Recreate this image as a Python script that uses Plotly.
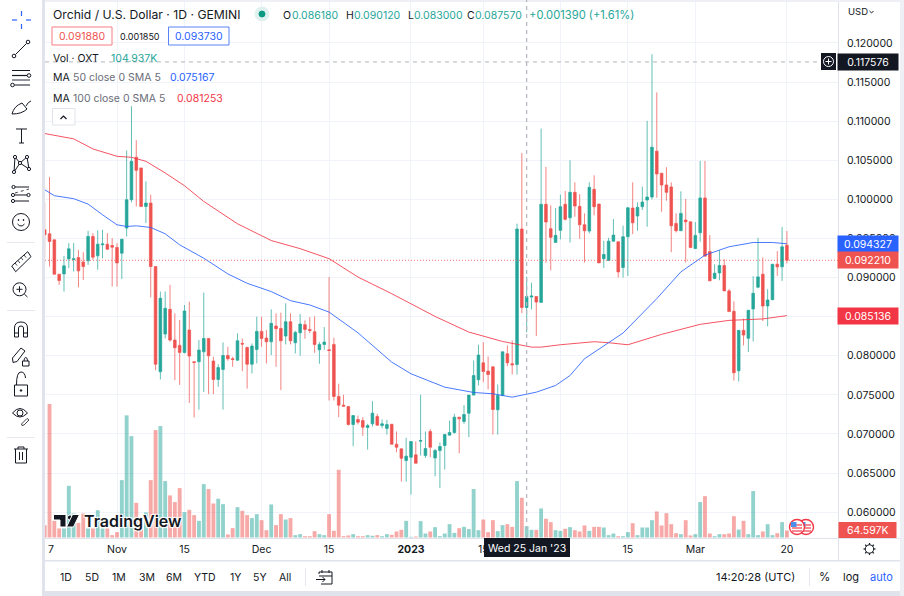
import re
import pandas as pd
import plotly.graph_objects as go

W, H = 904, 596
FONT = "Inter"
INK = "#131722"
GREEN = "#26a69a"
RED = "#ef5350"
BLUE = "#2962ff"
MA_RED = "#f23645"
FRAME = "#e0e3eb"
GRID = "#f0f3fa"

start_date = "2022-10-17"

open_ = [
 .09611,.0956,.09483,.09043,.09047,.09239,.0923,.09256,.09199,.09214,
 .09526,.09278,.0942,.09427,.0941,.09385,.09312,.09633,.09996,.10538,
 .10402,.0991,.09953,.09141,.07795,.08278,.08594,.08201,.08133,.08043,
 .08329,.07924,.07924,.08051,.08222,.07932,.07697,.07825,.08004,.07962,
 .07944,.08158,.08107,.07893,.08081,.08312,.08227,.08179,.0838,.0835,
 .08252,.08436,.08167,.08295,.08397,.08337,.08307,.08077,.08145,.08077,
 .08145,.0748,.07369,.07352,.07121,.07185,.07172,.07083,.0713,.07224,
 .07108,.0707,.07125,.06869,.0681,.0666,.06703,.06733,.06908,.06724,
 .07032,.06694,.06788,.06852,.06985,.07019,.07215,.0716,.07266,.07497,
 .07693,.0791,.07804,.07859,.07309,.07492,.08026,.07898,.07889,.09621,
 .08618,.08751,.08759,.08683,.09937,.09625,.0945,.09604,.09937,.09765,
 .1009,.09911,.09676,.09595,.10129,.09941,.0924,.09218,.09466,.09458,
 .09129,.09522,.09889,.09787,.09906,.09992,.1003,.10616,.10334,.10184,
 .10159,.09693,.09599,.09736,.09714,.09372,.09573,.10018,.09334,.08988,
 .0906,.09154,.0883,.08569,.07808,.08325,.08223,.08599,.08877,.09043,
 .08637,.08718,.09171,.09137,.09415]

high = [
 .09962,.10286,.09483,.09043,.09278,.0944,.0944,.09355,.09325,.09598,
 .09568,.09603,.09611,.09568,.09504,.0944,.09491,.10624,.11192,.10756,
 .10402,.10231,.1006,.09141,.08821,.08821,.08906,.08543,.08457,.0865,
 .08692,.07924,.08201,.08808,.08222,.07987,.07893,.08171,.08115,.07987,
 .08286,.08222,.08115,.08158,.085,.085,.08329,.08594,.08543,.08551,
 .08671,.08543,.0832,.08534,.08452,.08495,.08503,.08175,.08367,.09007,
 .0823,.07642,.07501,.07352,.07236,.07236,.07215,.0713,.0742,.07258,
 .07185,.07181,.07125,.07032,.0681,.06951,.06904,.06904,.07501,.07032,
 .07062,.0681,.06891,.07002,.07172,.07258,.07215,.07369,.07497,.0794,
 .08141,.08175,.07992,.07859,.07633,.08051,.08132,.08196,.09689,.10594,
 .09012,.08934,.08759,.10905,.10415,.09924,.0989,.1006,.10108,.105,
 .10218,.10065,.09821,.10218,.10308,.09941,.09471,.09509,.09748,.09458,
 .09663,.09894,.10218,.09962,.10163,.11005,.11855,.11368,.10334,.10411,
 .10218,.09821,.10103,.10005,.09714,.0971,.10492,.10492,.09543,.09171,
 .09351,.09235,.08855,.08697,.08325,.08475,.08582,.09018,.09509,.09257,
 .08851,.09171,.09338,.09646,.09595]

low = [
 .09248,.09141,.09043,.08906,.08821,.0912,.09077,.08876,.0897,.09162,
 .09227,.091,.09248,.09355,.08885,.08885,.08983,.09526,.09962,.0991,
 .0991,.09697,.08748,.07816,.07697,.08222,.0818,.07688,.07628,.0803,
 .07397,.0721,.07312,.07538,.07509,.07509,.07603,.07312,.07936,.07859,
 .07936,.07803,.07581,.07774,.07902,.08115,.07902,.08009,.07859,.0756,
 .08145,.08145,.0803,.08,.08218,.0829,.08038,.07898,.08077,.07428,
 .07428,.07215,.07352,.07108,.06844,.07121,.06976,.06801,.07096,.07108,
 .07074,.06993,.06869,.06767,.06391,.06391,.06225,.06626,.06724,.06694,
 .06703,.0646,.06311,.06545,.06985,.07002,.06754,.0713,.06959,.07497,
 .0762,.07663,.07569,.06993,.06993,.07484,.07868,.07761,.07761,.08546,
 .083,.08593,.08252,.08683,.0919,.09092,.0945,.09489,.09732,.09449,
 .09778,.09496,.09193,.09565,.09797,.09188,.09124,.09214,.09458,.09,
 .09,.09022,.09556,.09599,.09864,.0965,.1,.10022,.09842,.09983,
 .09325,.09577,.09599,.09193,.09376,.09364,.09458,.09274,.08958,.08979,
 .08966,.0883,.08565,.07684,.07671,.08133,.08048,.08184,.08864,.08445,
 .08377,.0871,.09022,.08958,.0918]

close = [
 .09547,.09462,.09043,.08962,.0915,.09368,.0924,.09086,.09141,.09526,
 .09261,.09427,.0943,.09363,.09389,.09188,.09491,.09996,.10487,.10372,
 .0991,.09953,.09141,.07893,.08735,.08607,.08201,.08103,.08043,.08573,
 .07996,.07915,.08073,.08222,.08,.07697,.0785,.08004,.07962,.07953,
 .08192,.0815,.07893,.08124,.08312,.08222,.08179,.08415,.08346,.08192,
 .08436,.08192,.08299,.08406,.08337,.08324,.08145,.08145,.08175,.08068,
 .0748,.07369,.07356,.07121,.07236,.07151,.07087,.07108,.07266,.07113,
 .0713,.07121,.06869,.06831,.0669,.06716,.06904,.06626,.06916,.06814,
 .06831,.06788,.0684,.06993,.07019,.07215,.07194,.07249,.07497,.07748,
 .08009,.07799,.07761,.07313,.07492,.08051,.0791,.07885,.09621,.08618,
 .08757,.08764,.08687,.09937,.09711,.09515,.0954,.09907,.09745,.1009,
 .09915,.09676,.09599,.10154,.09906,.09188,.09296,.09466,.09543,.09073,
 .09522,.09894,.09701,.09898,.09966,.1003,.10667,.10325,.10184,.1009,
 .09663,.09599,.09821,.09714,.09385,.09539,.10018,.09274,.08958,.09056,
 .09154,.0883,.08565,.07783,.08325,.08265,.08582,.08799,.09009,.08637,
 .08714,.09171,.09137,.09394,.09221]

volume_k = [
 115,1240,155,84,84,480,223,136,223,84,
 84,254,84,84,22,50,533,1135,942,322,
 130,233,533,998,1035,524,391,329,459,236,
 257,208,155,496,450,316,360,310,28,87,
 282,248,208,180,217,161,68,307,115,217,
 167,180,22,31,12,12,59,31,22,217,
 62,629,12,19,31,12,12,22,16,22,
 12,31,25,56,71,155,6,9,152,37,
 56,96,12,37,124,43,87,99,78,450,
 68,167,50,161,59,115,124,99,524,369,
 104.937,71,71,270,174,143,68,62,81,96,
 68,56,112,62,99,99,93,22,37,12,
 12,50,133,22,93,93,161,242,112,226,
 124,40,31,161,19,31,329,384,37,12,
 31,31,37,198,74,155,31,431,22,56,
 124,22,40,143,64.597]

ma100_day = [0,6,10,15,18,21,25,29,33,40,47,53,59,65,72,81,88,95,101,103,107,114,117,121,128,136,142,149,154]
ma100_val = [.10842,.10774,.10645,.10551,.10538,.10487,.10338,.10175,.09974,.09688,.09474,.0937,.09242,.09007,.08794,
             .08503,.08303,.08183,.08111,.08111,.08141,.0818,.08167,.08141,.08274,.08402,.08453,.08471,.085136]
ma50_day = [0,2,6,9,12,15,17,19,22,25,28,33,38,42,47,51,55,59,65,72,76,83,89,93,97,102,106,109,112,120,127,132,137,142,147,151,154]
ma50_val = [.10124,.10047,.10009,.0994,.09803,.09675,.09654,.09662,.09641,.0956,.09419,.09248,.09047,.08927,.08821,.08705,.0865,
            .08559,.08294,.07919,.0777,.07599,.07531,.07514,.07471,.07535,.0762,.07748,.07962,.08291,.08731,.09073,.09287,.09394,.09449,.09449,.094327]

price_ticks = [.06,.065,.07,.075,.08,.085,.09,.095,.10,.105,.11,.115,.12]
price_tick_text = ["0.060000","0.065000","0.070000","0.075000","0.080000","","0.090000","0.095000","0.100000","0.105000","0.110000","0.115000","0.120000"]
x_tick_dates = ["2022-11-01","2022-11-15","2022-12-01","2022-12-15","2023-01-01","2023-01-16","2023-02-01","2023-02-15","2023-03-01","2023-03-20"]
x_tick_text = ["Nov","15","Dec","15","<b>2023</b>","15","","15","Mar","20"]

ranges = ["1D","5D","1M","3M","6M","YTD","1Y","5Y","All"]
range_x = [66,92,119,147,174,205,235,260,285]

dates = pd.date_range(start_date, periods=len(open_), freq="D")
vol_colors = ["rgba(38,166,154,0.5)" if c >= o else "rgba(239,83,80,0.5)" for o, c in zip(open_, close)]


def px(x):
    return x / W


def py(y):
    return 1 - y / H


def path_of(cmds):
    out, is_x = [], True
    for tok in cmds.split():
        if re.fullmatch(r"[A-Za-z]", tok):
            out.append(tok)
            is_x = True
        else:
            v = float(tok)
            out.append(f"{px(v):.5f}" if is_x else f"{py(v):.5f}")
            is_x = not is_x
    return " ".join(out)


shapes, notes = [], []


def rect(x0, y0, x1, y1, fill, line=None, lw=1, layer="above"):
    shapes.append(dict(type="rect", xref="paper", yref="paper", x0=px(x0), x1=px(x1), y0=py(y1), y1=py(y0),
                       fillcolor=fill, line=dict(color=line or fill, width=lw if line else 0), layer=layer))


def circ(x, y, r, fill="rgba(0,0,0,0)", line=INK, lw=1):
    shapes.append(dict(type="circle", xref="paper", yref="paper", x0=px(x - r), x1=px(x + r), y0=py(y + r), y1=py(y - r),
                       fillcolor=fill, line=dict(color=line, width=lw), layer="above"))


def draw(cmds, line=INK, lw=1, fill="rgba(0,0,0,0)", dash="solid"):
    shapes.append(dict(type="path", xref="paper", yref="paper", path=path_of(cmds), fillcolor=fill,
                       line=dict(color=line, width=lw, dash=dash), layer="above"))


def text(s, x, y, size=11, color=INK, anchor="left", **font):
    notes.append(dict(text=s, xref="paper", yref="paper", x=px(x - 1.5 if anchor == "left" else x), y=py(y), xanchor=anchor,
                      yanchor="middle", showarrow=False, font=dict(family=FONT, size=size, color=color, **font)))


# outer frame
rect(42, 0, 45, 596, FRAME, layer="below")
rect(42, 591, 904, 596, FRAME, layer="below")
rect(45, 0, 904, 2, "#eef0f5", layer="below")
rect(900, 0, 904, 596, "#eef0f5", layer="below")
rect(45, 538, 900, 539, FRAME)
rect(45, 560, 900, 561.5, FRAME)
rect(838, 2, 839, 560, FRAME)

# toolbar icons
for a, b in [("12 20", "17 20"), ("26 20", "31 20"), ("21.5 11", "21.5 16"), ("21.5 24", "21.5 29")]:
    draw(f"M {a} L {b}", line=BLUE, lw=1.2)
draw("M 15.5 54.5 L 26.5 43.5")
circ(14, 56, 1.8)
circ(28, 42, 1.8)
draw("M 12 70.5 L 30 70.5")
draw("M 12 75.5 L 27 75.5", lw=1.2)
draw("M 12 80 L 30 80", line="#787b86", lw=1.6)
draw("M 14.5 85 L 30 85")
circ(29, 75.5, 1.8)
circ(12.5, 85, 1.8)
draw("M 12 114 Q 14 106 22 103 L 27 109 Q 22 114 12 114 Z")
draw("M 26 106 Q 28 102 31 101")
draw("M 16 129 L 27 129")
draw("M 21.5 129 L 21.5 143")
draw("M 19 143 L 24 143")
draw("M 15 157 L 14 172 L 20 163 L 27 157 L 29 169 L 20 163 L 15 157")
for a, b in [(15, 157), (27, 157), (14, 172), (29, 169), (20, 163)]:
    circ(a, b, 1.6, fill="white")
draw("M 15 187 L 29 187")
draw("M 15 193 L 29 189", lw=0.8, dash="dot")
draw("M 15 195 L 27 195")
draw("M 15 201 L 29 201")
for a, b in [(13.5, 187), (13, 195), (28.5, 195), (13, 201)]:
    circ(a, b, 1.6, fill="white")
circ(21, 222, 8.5)
circ(18.5, 220, 0.5, fill=INK)
circ(23.5, 220, 0.5, fill=INK)
draw("M 17.5 224 Q 21 228 24.5 224")
for yy in (242, 310, 437):
    rect(7, yy, 35, yy + 0.8, FRAME)
draw("M 11.7 266 L 27.7 251.7 L 31 256.7 L 15.7 271.7 Z")
for a, b, c, d in [(15, 263, 17, 265.5), (18, 260.5, 20, 263), (21, 257.5, 23, 260), (24, 255, 26, 257.5)]:
    draw(f"M {a} {b} L {c} {d}", lw=0.8)
circ(19.5, 289.3, 6.5)
draw("M 16.5 289.3 L 22.5 289.3")
draw("M 19.5 286.3 L 19.5 292.3")
draw("M 24.3 294 L 27.5 297")
draw("M 14.5 337 L 14.5 328 Q 14.5 322 21 322 Q 27.5 322 27.5 328 L 27.5 337 L 23.5 337 L 23.5 328 Q 23.5 326 21 326 Q 18.5 326 18.5 328 L 18.5 337 Z")
draw("M 14.5 333 L 18.5 333")
draw("M 23.5 333 L 27.5 333")
draw("M 12.5 358 L 13 362.5 L 17 361.5 L 25 351 L 21 348 Z")
rect(22.5, 361, 29, 366, "white", line=INK)
draw("M 24 361 Q 24 357.5 25.8 357.5 Q 27.5 357.5 27.5 361")
rect(14.5, 385, 27.5, 396, "white", line=INK)
draw("M 16.5 385 Q 16.5 372 21 372 Q 25 372 25.5 378")
circ(21, 390.5, 0.8, fill=INK)
draw("M 12.5 413 Q 20 404 27.5 413 Q 20 421 12.5 413 Z")
circ(20, 413, 3)
draw("M 21.5 424 L 22 425.5 L 24 425 L 29 420 L 27 418.5 Z", lw=0.8)
draw("M 14 449 L 28 449")
draw("M 18 449 L 18 447 L 24 447 L 24 449")
draw("M 15.5 449 L 15.5 463 L 26.5 463 L 26.5 449")
draw("M 19.5 452 L 19.5 460")
draw("M 22.5 452 L 22.5 460")

# legend block
text("Orchid / U.S. Dollar · 1D · GEMINI", 52, 14, 12.2)
circ(262, 14, 7, fill="#dff1ef", line="#dff1ef")
circ(262, 14, 3, fill="#089981", line="#089981")
for lab, lx, val, vx in [("O", 282, "0.086180", 291), ("H", 345, "0.090120", 353), ("L", 407, "0.083000", 413), ("C", 467, "0.087570", 475)]:
    text(lab, lx, 15, 10.5)
    text(val, vx, 15, 10.5, GREEN)
text("+0.001390 (+1.61%)", 528, 15, 11.2, GREEN)
rect(52, 27, 112, 45, "white", line="#f77c80")
text("0.091880", 82, 36, 10.5, RED, "center")
text("0.001850", 140, 36, 9, INK, "center")
rect(168.5, 27, 229, 45, "white", line="#5b82f7")
text("0.093730", 199, 36, 10.5, BLUE, "center")
text("Vol · OXT", 52, 59, 10.5)
text("104.937K", 110, 59, 10.5, GREEN)
text("MA", 52, 78, 10.5)
text("50 close 0 SMA 5", 72, 78, 10.5, "#6a6d78")
text("0.075167", 169, 78, 10.5, BLUE)
text("MA", 52, 98, 10.5)
text("100 close 0 SMA 5", 72, 98, 10.5, "#6a6d78")
text("0.081253", 176, 98, 10.5, MA_RED)
rect(52.5, 108.5, 75, 125, "white", line=FRAME)
draw("M 60.5 119 L 63.5 116 L 66.5 119", lw=1.2)

# crosshair and last-price lines
shapes.append(dict(type="line", xref="x", yref="paper", x0="2023-01-25", x1="2023-01-25", y0=py(538), y1=py(0),
                   line=dict(color="#b2b5be", width=1.2, dash="4px,4px"), layer="above"))
shapes.append(dict(type="line", xref="paper", yref="y", x0=px(45), x1=px(821), y0=.117576, y1=.117576,
                   line=dict(color="#b2b5be", width=1, dash="4px,4px"), layer="above"))
shapes.append(dict(type="line", xref="paper", yref="y", x0=px(45), x1=px(838), y0=close[-1], y1=close[-1],
                   line=dict(color="rgba(239,83,80,0.8)", width=1, dash="1px,2px"), layer="above"))

# watermark
draw("M 53.5 514.5 L 66 514.5 L 66 527 L 60 527 L 60 520 L 53.5 520 Z", line="white", lw=1, fill=INK)
circ(70, 517.5, 2.6, fill=INK, line="white")
draw("M 72.5 514.5 L 79.5 514.5 L 73.5 527 L 66.5 527 Z", line="white", lw=1, fill=INK)
text("TradingView", 83, 521, 16, INK, weight=600,
     shadow="1px 1px 1px #fff, -1px -1px 1px #fff, 1px -1px 1px #fff, -1px 1px 1px #fff")

# flags
for cx in (806, 797):
    circ(cx, 527, 7.5, fill="white", line=MA_RED, lw=1.4)
    for dy in (-2, 1, 4):
        draw(f"M {cx - 5} {527 + dy} L {cx + 5} {527 + dy}", line=MA_RED, lw=1.2)
    rect(cx - 6, 522, cx - 0.5, 527, "#4c8ee8")

# right scale labels


def badge(label, price, bg):
    notes.append(dict(text=label, xref="paper", yref="y", x=px(867.5), y=price, xanchor="center", yanchor="middle",
                      width=58, height=14, bgcolor=bg, borderpad=1, showarrow=False,
                      font=dict(family=FONT, size=10.5, color="white")))


badge("0.117576", .117576, INK)
badge("0.094327", ma50_val[-1], BLUE)
badge("0.092210", close[-1], RED)
badge("0.085136", ma100_val[-1], MA_RED)
rect(838.5, 522, 896.5, 538, RED)
text("64.597K", 867.5, 530, 10.5, "white", "center")
rect(821, 53, 836, 70, INK)
circ(828.5, 61.5, 5, line="white")
draw("M 825.5 61.5 L 831.5 61.5", line="white")
draw("M 828.5 58.5 L 828.5 64.5", line="white")
text("USD", 847, 12, 9.5)
draw("M 869.5 11 L 871.5 13 L 873.5 11")

# time tooltip and axis fragment
text("7", 47, 549, 10.5, INK)
rect(484, 538, 570, 557, INK)
text("Wed 25 Jan '23", 527, 548, 10.5, "white", "center")

# gear
circ(869.5, 549, 4.2)
for a, b, c, d in [(869.5, 543, 869.5, 544.8), (869.5, 553.2, 869.5, 555), (863.5, 549, 865.3, 549), (873.7, 549, 875.5, 549),
                   (865.2, 544.7, 866.5, 546), (872.5, 552, 873.8, 553.3), (865.2, 553.3, 866.5, 552), (872.5, 546, 873.8, 544.7)]:
    draw(f"M {a} {b} L {c} {d}", lw=1.2)

# bottom bar
for r, rx in zip(ranges, range_x):
    text(r, rx, 577, 10.5, INK, "center")
rect(305, 568, 305.8, 586, FRAME)
draw("M 319 574 L 319 572 L 332 572 L 332 584 L 321 584")
draw("M 319 576 L 332 576")
draw("M 316 579.5 L 325 579.5")
draw("M 322.5 577 L 325 579.5 L 322.5 582")
draw("M 322 570 L 322 573")
draw("M 329 570 L 329 573")
text("14:20:28 (UTC)", 755.5, 577, 11, INK, "center")
rect(809, 568, 809.8, 586, FRAME)
text("%", 824, 577, 11.5, INK, "center")
text("log", 851, 577, 11, INK, "center")
text("auto", 881, 577, 11, BLUE, "center")

fig = go.Figure()
fig.add_trace(go.Bar(x=dates, y=volume_k, yaxis="y2", marker=dict(color=vol_colors, line=dict(width=0)), name="Vol"))
fig.add_trace(go.Scatter(x=dates[ma100_day], y=ma100_val, mode="lines", line=dict(color="rgba(242,54,69,0.85)", width=1), name="MA 100"))
fig.add_trace(go.Scatter(x=dates[ma50_day], y=ma50_val, mode="lines", line=dict(color="rgba(41,98,255,0.85)", width=1), name="MA 50"))
fig.add_trace(go.Candlestick(x=dates, open=open_, high=high, low=low, close=close, whiskerwidth=0, name="OXT",
                             increasing=dict(line=dict(color="rgba(38,166,154,0.72)", width=1), fillcolor=GREEN),
                             decreasing=dict(line=dict(color="rgba(239,83,80,0.72)", width=1), fillcolor=RED)))

t0 = pd.Timestamp(start_date)
fig.update_layout(
    width=W, height=H, margin=dict(l=0, r=0, t=0, b=0), autosize=False,
    paper_bgcolor="white", plot_bgcolor="white", showlegend=False, bargap=0.2, boxgap=0.22,
    font=dict(family=FONT, color=INK, size=10.5),
    xaxis=dict(domain=[px(45), px(838)], type="date", range=[t0 + pd.Timedelta(days=.06), t0 + pd.Timedelta(days=164.6)],
               tickmode="array", tickvals=x_tick_dates, ticktext=x_tick_text, tickangle=0, showgrid=True, gridcolor=GRID,
               gridwidth=1, rangeslider=dict(visible=False), ticks="", showline=False, zeroline=False,
               tickfont=dict(family=FONT, size=10.5, color=INK), ticklabelstandoff=3),
    yaxis=dict(domain=[py(538), py(2)], range=[.0567, .12524], side="right", tickmode="array", tickvals=price_ticks,
               ticktext=price_tick_text, showgrid=True, gridcolor=GRID, gridwidth=1, ticks="", showline=False, zeroline=False,
               tickfont=dict(family=FONT, size=10.5, color=INK), ticklabelstandoff=8),
    yaxis2=dict(overlaying="y", range=[-4.6, 4975], visible=False, side="left"),
    shapes=shapes, annotations=notes,
)
fig.write_html("out.html", config=dict(displayModeBar=False),
               post_script="document.body.style.margin='0';document.documentElement.style.overflow='hidden';")
